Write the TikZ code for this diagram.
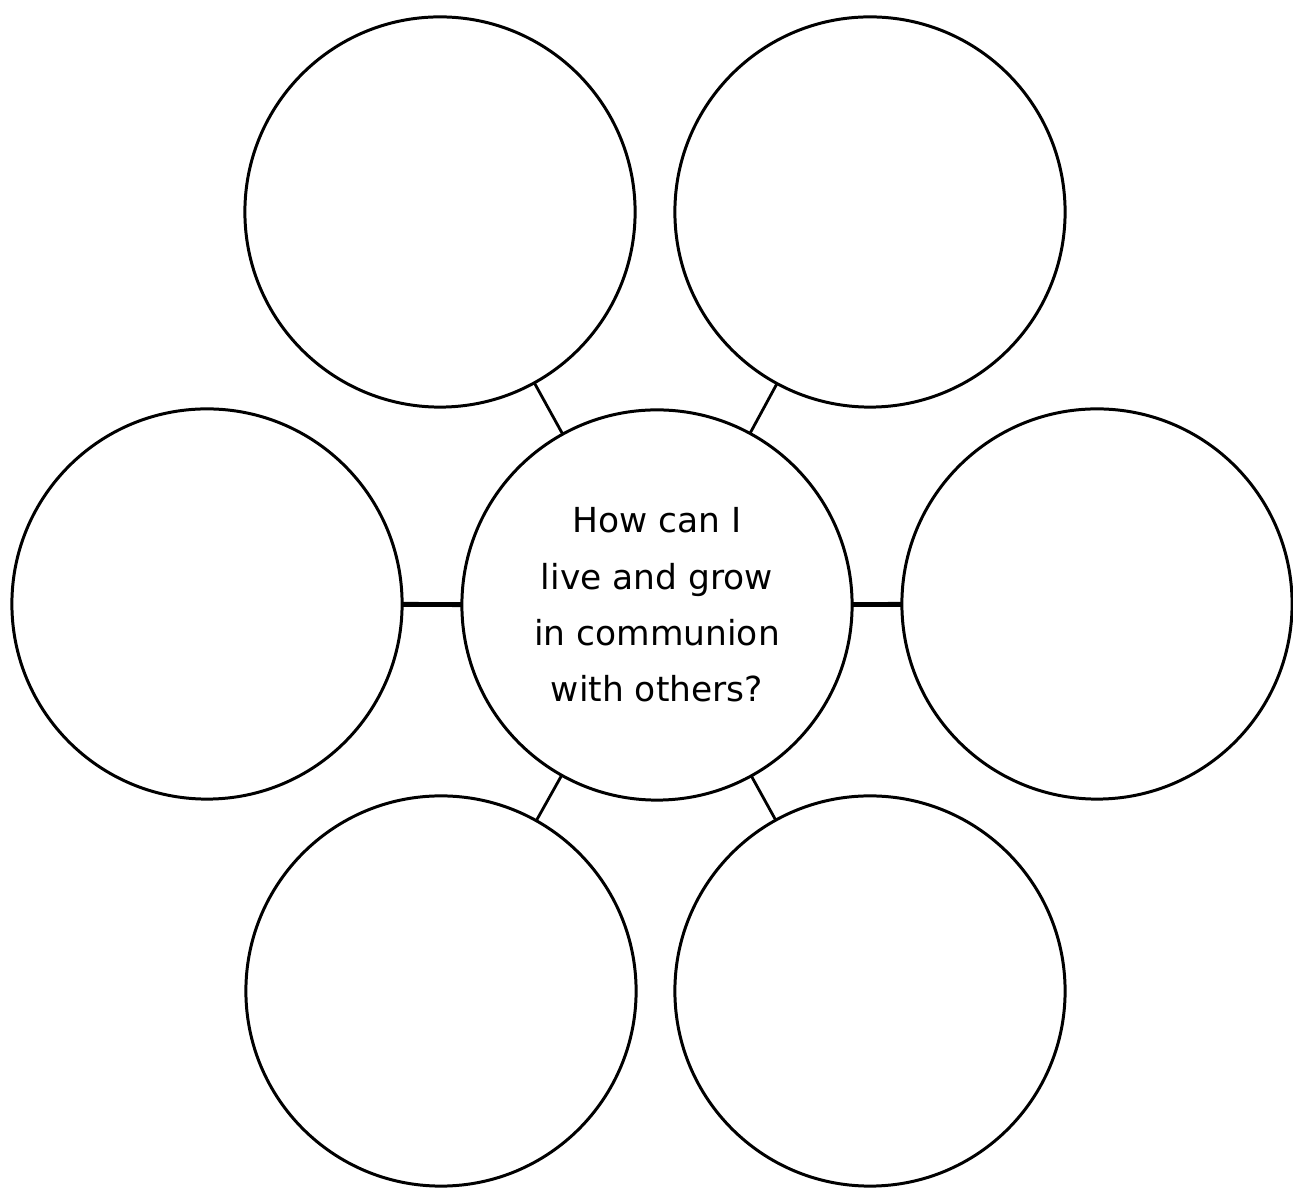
\documentclass[tikz,border=0pt]{standalone}
\usepackage{fontspec}
\setmainfont{DejaVu Sans}
\usetikzlibrary{positioning}

\begin{document}
\begin{tikzpicture}[x=0.01cm,y=-0.01cm,
  bubble/.style={draw,circle,line width=0.85pt,minimum size=3.9cm,inner sep=0pt,outer sep=0pt},
  spoke/.style={line width=0.8pt},
  hspoke/.style={line width=1.4pt}]
\useasboundingbox[fill=white] (0,0) rectangle (1293,1189);
% centre question
\node[bubble,align=center,font=\fontsize{9.8}{16}\selectfont] (hub) at (657,605)
  {How can I\\live and grow\\in communion\\with others?};
% outer bubbles
\node[bubble] (tl) at (440,212) {};
\node[bubble] (tr) at (870,212) {};
\node[bubble] (ml) at (207,604) {};
\node[bubble] (mr) at (1097,604) {};
\node[bubble] (bl) at (441,991) {};
\node[bubble] (br) at (870,991) {};
% spokes
\draw[hspoke] (hub) -- (ml);
\draw[hspoke] (hub) -- (mr);
\draw[spoke] (hub) -- (tl);
\draw[spoke] (hub) -- (tr);
\draw[spoke] (hub) -- (bl);
\draw[spoke] (hub) -- (br);
\end{tikzpicture}
\end{document}
